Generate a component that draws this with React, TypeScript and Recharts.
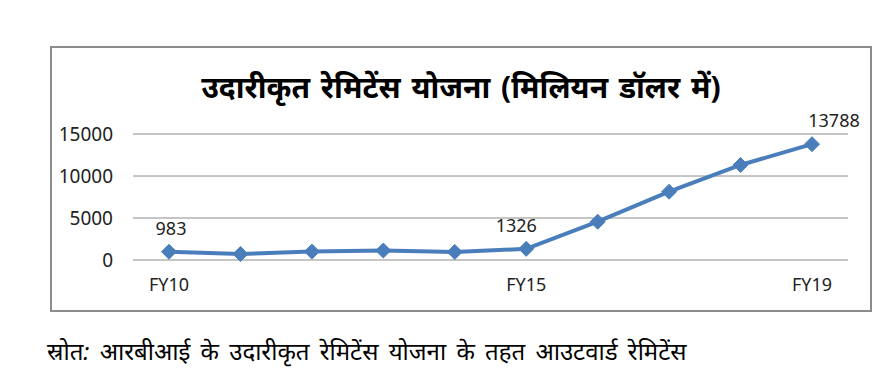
import { LineChart, Line, XAxis, YAxis, CartesianGrid, LabelList } from "recharts";

const years = ["FY10", "FY11", "FY12", "FY13", "FY14", "FY15", "FY16", "FY17", "FY18", "FY19"];
const remittances = [983, 720, 1000, 1130, 960, 1326, 4560, 8130, 11310, 13788];
const shownTicks = ["FY10", "FY15", "FY19"];
const labelledYears = ["FY10", "FY15", "FY19"];
const yTicks = [0, 5000, 10000, 15000];

const title = "उदारीकृत रेमिटेंस योजना (मिलियन डॉलर में)";
const source = "स्रोत: आरबीआई के उदारीकृत रेमिटेंस योजना के तहत आउटवार्ड रेमिटेंस";

const data = years.map((year, i) => ({ year, value: remittances[i] }));

const blue = "#4a7ebb";
const font = "'Noto Sans', sans-serif";

function Diamond(props: any) {
  const { cx, cy } = props;
  if (cx == null || cy == null) return null;
  const r = 7.5;
  return (
    <polygon
      points={`${cx},${cy - r} ${cx + r},${cy} ${cx},${cy + r} ${cx - r},${cy}`}
      fill={blue}
      stroke={blue}
    />
  );
}

// Excel put these labels a bit off-centre
const labelShift: Record<string, number> = { FY10: 2, FY15: -10, FY19: 22 };

function ValueLabel(props: any) {
  const { x, y, value, index } = props;
  const year = years[index];
  if (!labelledYears.includes(year)) return null;
  return (
    <text
      x={x + (labelShift[year] || 0)}
      y={y - 24}
      textAnchor="middle"
      dominantBaseline="central"
      fontSize={18}
      fontFamily={font}
      fill="#222"
    >
      {value}
    </text>
  );
}

export default function App() {
  return (
    <div style={{ position: "absolute", left: 0, top: 0, width: 883, height: 379, background: "#fff" }}>
      <div
        style={{
          position: "absolute",
          left: 50,
          top: 46,
          width: 818,
          height: 262,
          border: "2px solid #8c8c8c",
        }}
      />
      <div
        style={{
          position: "absolute",
          left: 52,
          top: 67,
          width: 818,
          textAlign: "center",
          fontFamily: font,
          fontWeight: "bold",
          fontSize: 30,
          color: "#000",
          lineHeight: "40px",
          wordSpacing: 3,
        }}
      >
        {title}
      </div>
      <div style={{ position: "absolute", left: 0, top: 0 }}>
        <LineChart
          width={883}
          height={379}
          data={data}
          margin={{ top: 134, right: 35, bottom: 79, left: 0 }}
        >
          <CartesianGrid vertical={false} stroke="#8c8c8c" />
          <XAxis
            dataKey="year"
            axisLine={false}
            tickLine={false}
            tickSize={0}
            tickMargin={18}
            height={40}
            interval={0}
            padding={{ left: 36, right: 36 }}
            tickFormatter={(v: string) => (shownTicks.includes(v) ? v : "")}
            tick={{ fill: "#222", fontSize: 18, fontFamily: font }}
          />
          <YAxis
            domain={[0, 15000]}
            ticks={yTicks}
            axisLine={false}
            tickLine={false}
            tickSize={0}
            tickMargin={20}
            width={133}
            tick={{ fill: "#222", fontSize: 19, fontFamily: font }}
          />
          <Line
            type="linear"
            dataKey="value"
            stroke={blue}
            strokeWidth={4}
            dot={<Diamond />}
            activeDot={false}
            isAnimationActive={false}
          >
            <LabelList dataKey="value" content={<ValueLabel />} />
          </Line>
        </LineChart>
      </div>
      <div
        style={{
          position: "absolute",
          left: 47,
          top: 336,
          fontFamily: font,
          fontStyle: "italic",
          fontSize: 24,
          color: "#000",
          whiteSpace: "nowrap",
          lineHeight: "30px",
          wordSpacing: 4,
        }}
      >
        {source}
      </div>
    </div>
  );
}
